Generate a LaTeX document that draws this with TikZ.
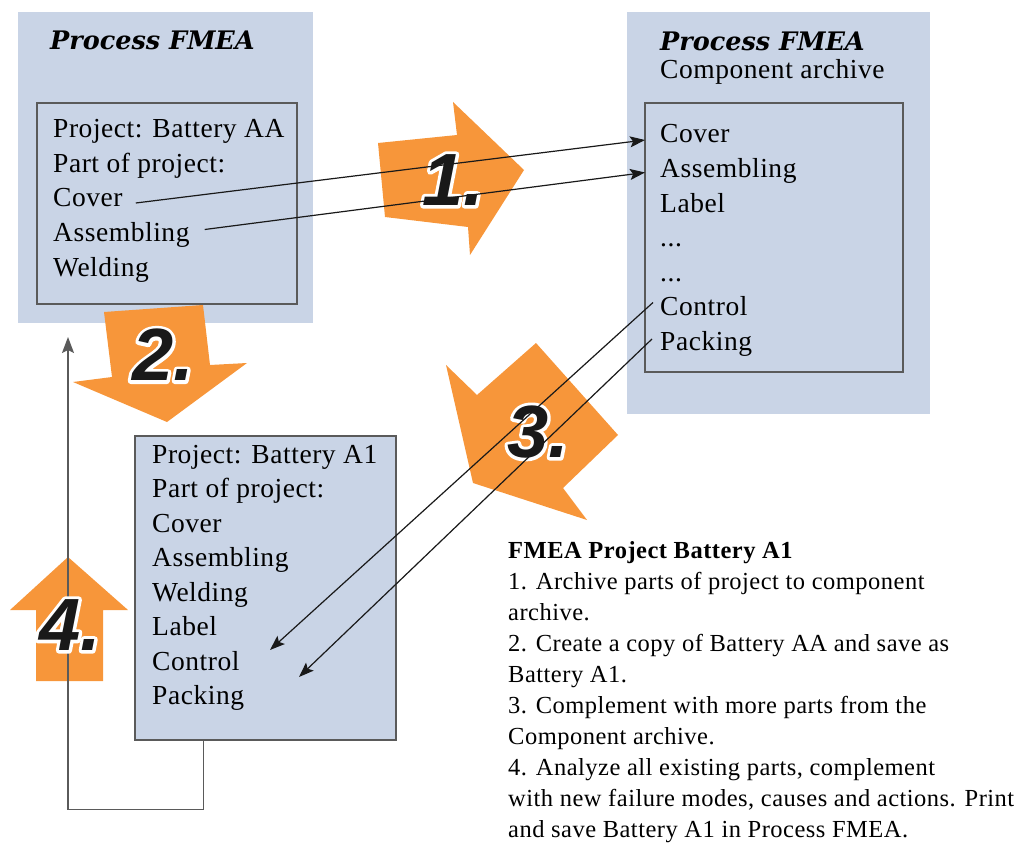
\documentclass[tikz,border=0pt]{standalone}
\usepackage{fontspec}
\setmainfont{Liberation Serif}[LetterSpace=2]
\newfontfamily\numfont{Liberation Sans}
\newfontfamily\headfont{DejaVu Serif}
\usetikzlibrary{arrows.meta,calc}
\definecolor{shade}{RGB}{201,212,230}
\definecolor{orng}{RGB}{247,150,58}
\definecolor{frame}{RGB}{90,90,90}
\tikzset{
  panel/.style={fill=shade,draw=none,inner sep=0pt},
  listbox/.style={fill=shade,draw=frame,line width=1.1pt,inner sep=0pt},
  txt/.style={anchor=base west,inner sep=0pt,font=\fontsize{27.5}{27.5}\selectfont},
  btxt/.style={anchor=base west,inner sep=0pt,font=\fontsize{24.5}{24.5}\selectfont},
  head/.style={anchor=base west,inner sep=0pt,font=\headfont\bfseries\itshape\fontsize{25.5}{25.5}\selectfont},
  numtxt/.style={inner sep=0pt,text=black!90,font=\numfont\bfseries\itshape\fontsize{74}{74}\selectfont},
  bigarrow/.style={fill=orng,draw=none},
  conn/.style={draw=black!90,line width=1.2pt,-{Stealth[length=15pt,width=11pt,inset=3pt]}},
  loop/.style={draw=frame,line width=1.3pt,-{Stealth[length=16pt,width=12pt,inset=3pt]}}
}
% white halo behind a digit: stroke only, white, thick
\newcommand\halo[1]{\special{pdf:literal direct 1 Tr 1 1 1 RG 6.5 w 1 j}#1\special{pdf:literal direct 0 Tr 0 G 1 w 0 j}}
\begin{document}
\begin{tikzpicture}[x=1pt,y=-1pt]
\useasboundingbox (0,0) rectangle (1027,845);
% panels
\node[panel,minimum width=295pt,minimum height=311pt] (lpanel) at (165.5,167.5) {};
\node[panel,minimum width=303pt,minimum height=402pt] (rpanel) at (778.5,213) {};
\node[listbox,minimum width=260pt,minimum height=201pt] (linner) at (167,203.5) {};
\node[listbox,minimum width=258pt,minimum height=269pt] (rinner) at (774,237.5) {};
\node[listbox,minimum width=261pt,minimum height=304pt] (lbox) at (265.5,588) {};
% headings
\node[head] (lhead) at (50,50) {Process FMEA};
\node[head] (rhead) at (660,51) {Process FMEA};
\node[txt] (rsub) at (660,79) {Component archive};
% left list
\node[txt] (lproj) at (53,138) {Project: Battery AA};
\node[txt] (lpart) at (53,172.5) {Part of project:};
\node[txt] (lcover) at (53,207) {Cover};
\node[txt] (lassem) at (53,241.5) {Assembling};
\node[txt] (lweld) at (53,276) {Welding};
% right list
\node[txt] (rcover) at (660,143) {Cover};
\node[txt] (rassem) at (660,177.5) {Assembling};
\node[txt] (rlabel) at (660,212) {Label};
\node[txt] (rdots1) at (660,246.5) {...};
\node[txt] (rdots2) at (660,281) {...};
\node[txt] (rctrl) at (660,315.5) {Control};
\node[txt] (rpack) at (660,350) {Packing};
% lower list
\node[txt] (bproj) at (152,463) {Project: Battery A1};
\node[txt] (bpart) at (152,497.5) {Part of project:};
\node[txt] (bcover) at (152,532) {Cover};
\node[txt] (bassem) at (152,566.5) {Assembling};
\node[txt] (bweld) at (152,601) {Welding};
\node[txt] (blabel) at (152,635.5) {Label};
\node[txt] (bctrl) at (152,670) {Control};
\node[txt] (bpack) at (152,704.5) {Packing};
% description
\node[btxt] (d0) at (508,558) {\textbf{FMEA Project Battery A1}};
\node[btxt] (d1) at (508,589) {1. Archive parts of project to component};
\node[btxt] (d2) at (508,620) {archive.};
\node[btxt] (d3) at (508,651) {2. Create a copy of Battery AA and save as};
\node[btxt] (d4) at (508,682) {Battery A1.};
\node[btxt] (d5) at (508,713) {3. Complement with more parts from the};
\node[btxt] (d6) at (508,744) {Component archive.};
\node[btxt] (d7) at (508,775) {4. Analyze all existing parts, complement};
\node[btxt] (d8) at (508,806) {with new failure modes, causes and actions. Print};
\node[btxt] (d9) at (508,837) {and save Battery A1 in Process FMEA.};
% big orange arrows
\fill[bigarrow] (378,143) -- (457,135) -- (453,102) -- (524,170) -- (470,255) -- (468,227) -- (385,217) -- cycle;
\fill[bigarrow] (104,312) -- (203,305) -- (210,365) -- (247,363) -- (167,422) -- (73,382) -- (112,377) -- cycle;
\fill[bigarrow] (446,365) -- (477,395) -- (536,343) -- (618,435) -- (563,488) -- (587,520) -- (473,483) -- cycle;
\fill[bigarrow] (68,557) -- (128,610) -- (103,610) -- (103,681) -- (36,681) -- (36,610) -- (10,610) -- cycle;
\node[numtxt] (h1) at (453,180) {\halo{1.}};
\node[numtxt] (n1) at (453,180) {1.};
\node[numtxt] (h2) at (163,355) {\halo{2.}};
\node[numtxt] (n2) at (163,355) {2.};
\node[numtxt] (h3) at (538,432) {\halo{3.}};
\node[numtxt] (n3) at (538,432) {3.};
% connectors
\coordinate (tip3a) at (270,650);
\coordinate (tip3b) at (299,677);
\coordinate (loopend) at (68,337);
\draw[conn] ($(lcover.base east)+(13,-4)$) -- ($(rcover.base west)+(-15,-3)$);
\draw[conn] ($(lassem.base east)+(15,-12)$) -- ($(rassem.base west)+(-15,-5)$);
\draw[conn] ($(rctrl.base west)+(-7,-13)$) -- (tip3a);
\draw[conn] ($(rpack.base west)+(-8,-11)$) -- (tip3b);
\draw[loop] ($(lbox.south west)+(69,0)$) -- ++(0,69) -| (loopend);
\node[numtxt] (h4) at (70,625) {\halo{4.}};
\node[numtxt] (n4) at (70,625) {4.};
\end{tikzpicture}
\end{document}
